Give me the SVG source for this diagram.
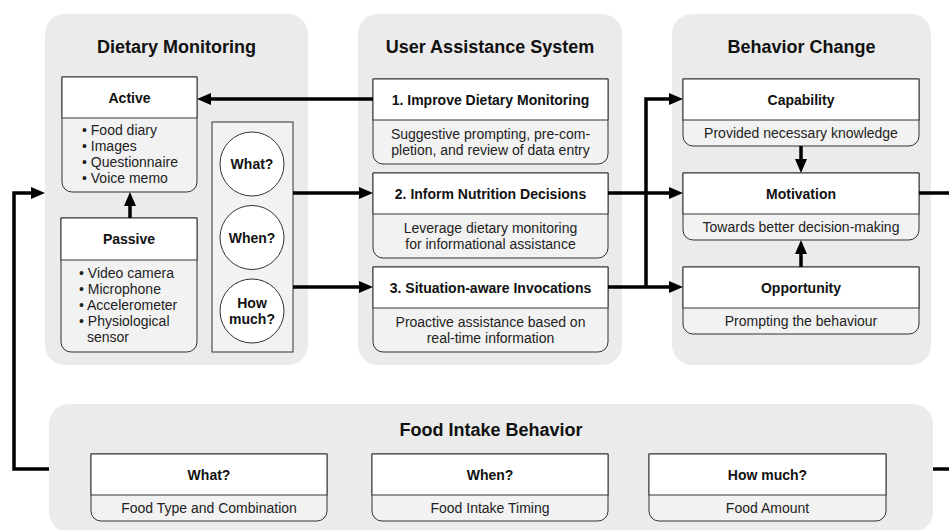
<svg xmlns="http://www.w3.org/2000/svg" width="949" height="530" viewBox="0 0 949 530">
<defs>
<style>
.panel{fill:#ebebeb;stroke:none}
.body{fill:#f2f2f2;stroke:#333;stroke-width:1}
.head{fill:#fff;stroke:#333;stroke-width:1}
.circ{fill:#fff;stroke:#333;stroke-width:1}
.ptitle{font-family:"Liberation Sans",Arial,sans-serif;font-size:18px;font-weight:bold;fill:#111;text-anchor:middle}
.btitle{font-family:"Liberation Sans",Arial,sans-serif;font-size:14px;font-weight:bold;fill:#111;text-anchor:middle}
.desc{font-family:"Liberation Sans",Arial,sans-serif;font-size:14px;fill:#222;text-anchor:middle}
.bul{font-family:"Liberation Sans",Arial,sans-serif;font-size:14px;fill:#222}
.conn{fill:none;stroke:#000;stroke-width:3.5}
</style>
<marker id="ah" markerUnits="userSpaceOnUse" markerWidth="14" markerHeight="12" refX="4" refY="6" orient="auto">
<path d="M0,0 L14,6 L0,12 Z" fill="#000"/>
</marker>
</defs>

<g id="panel-dietary-monitoring">
<rect class="panel" x="45" y="14" width="263" height="351" rx="20"/>
<text class="ptitle" x="176.5" y="53">Dietary Monitoring</text>
</g>
<g id="panel-user-assistance">
<rect class="panel" x="358" y="14" width="264" height="351" rx="20"/>
<text class="ptitle" x="490" y="53">User Assistance System</text>
</g>
<g id="panel-behavior-change">
<rect class="panel" x="672" y="14" width="259" height="351" rx="20"/>
<text class="ptitle" x="801.5" y="53">Behavior Change</text>
</g>
<g id="panel-food-intake">
<rect class="panel" x="49" y="404" width="884" height="128" rx="20"/>
<text class="ptitle" x="491" y="436">Food Intake Behavior</text>
</g>

<g id="node-active">
<path class="body" d="M62,77 H197 V182 A10,10 0 0 1 187,192 H72 A10,10 0 0 1 62,182 Z"/>
<rect class="head" x="62" y="77" width="135" height="41"/>
<text class="btitle" x="129.5" y="102.5">Active</text>
<text class="bul" x="82" y="135">• Food diary</text>
<text class="bul" x="82" y="151">• Images</text>
<text class="bul" x="82" y="167">• Questionnaire</text>
<text class="bul" x="82" y="183">• Voice memo</text>
</g>

<g id="node-passive">
<path class="body" d="M61,218 H197 V342 A10,10 0 0 1 187,352 H71 A10,10 0 0 1 61,342 Z"/>
<rect class="head" x="61" y="218" width="136" height="42"/>
<text class="btitle" x="129" y="244">Passive</text>
<text class="bul" x="79" y="278">• Video camera</text>
<text class="bul" x="79" y="294">• Microphone</text>
<text class="bul" x="79" y="310">• Accelerometer</text>
<text class="bul" x="79" y="326">• Physiological</text>
<text class="bul" x="87" y="342">sensor</text>
</g>

<g id="node-questions">
<rect class="body" x="212" y="122" width="81" height="230"/>
<circle class="circ" cx="252" cy="164" r="32"/>
<text class="btitle" x="252" y="169">What?</text>
<circle class="circ" cx="252" cy="237.5" r="32"/>
<text class="btitle" x="252" y="242.5">When?</text>
<circle class="circ" cx="252" cy="311" r="32"/>
<text class="btitle" x="252" y="308">How</text>
<text class="btitle" x="252" y="324">much?</text>
</g>

<g id="node-improve">
<path class="body" d="M373,79 H608 V154 A10,10 0 0 1 598,164 H383 A10,10 0 0 1 373,154 Z"/>
<rect class="head" x="373" y="79" width="235" height="41"/>
<text class="btitle" x="490.5" y="104.5">1. Improve Dietary Monitoring</text>
<text class="desc" x="490.5" y="139">Suggestive prompting, pre-com-</text>
<text class="desc" x="490.5" y="155">pletion, and review of data entry</text>
</g>

<g id="node-inform">
<path class="body" d="M373,173 H608 V248 A10,10 0 0 1 598,258 H383 A10,10 0 0 1 373,248 Z"/>
<rect class="head" x="373" y="173" width="235" height="41"/>
<text class="btitle" x="490.5" y="198.5">2. Inform Nutrition Decisions</text>
<text class="desc" x="490.5" y="233">Leverage dietary monitoring</text>
<text class="desc" x="490.5" y="249">for informational assistance</text>
</g>

<g id="node-situation">
<path class="body" d="M373,267 H608 V342 A10,10 0 0 1 598,352 H383 A10,10 0 0 1 373,342 Z"/>
<rect class="head" x="373" y="267" width="235" height="41"/>
<text class="btitle" x="490.5" y="292.5">3. Situation-aware Invocations</text>
<text class="desc" x="490.5" y="327">Proactive assistance based on</text>
<text class="desc" x="490.5" y="343">real-time information</text>
</g>

<g id="node-capability">
<path class="body" d="M683,79 H919 V136 A10,10 0 0 1 909,146 H693 A10,10 0 0 1 683,136 Z"/>
<rect class="head" x="683" y="79" width="236" height="41"/>
<text class="btitle" x="801" y="104.5">Capability</text>
<text class="desc" x="801" y="138">Provided necessary knowledge</text>
</g>

<g id="node-motivation">
<path class="body" d="M683,173 H919 V230 A10,10 0 0 1 909,240 H693 A10,10 0 0 1 683,230 Z"/>
<rect class="head" x="683" y="173" width="236" height="41"/>
<text class="btitle" x="801" y="198.5">Motivation</text>
<text class="desc" x="801" y="232">Towards better decision-making</text>
</g>

<g id="node-opportunity">
<path class="body" d="M683,267 H919 V324 A10,10 0 0 1 909,334 H693 A10,10 0 0 1 683,324 Z"/>
<rect class="head" x="683" y="267" width="236" height="41"/>
<text class="btitle" x="801" y="292.5">Opportunity</text>
<text class="desc" x="801" y="326">Prompting the behaviour</text>
</g>

<g id="node-what">
<path class="body" d="M91,454 H327 V511 A10,10 0 0 1 317,521 H101 A10,10 0 0 1 91,511 Z"/>
<rect class="head" x="91" y="454" width="236" height="41"/>
<text class="btitle" x="209" y="479.5">What?</text>
<text class="desc" x="209" y="513">Food Type and Combination</text>
</g>

<g id="node-when">
<path class="body" d="M372,454 H608 V511 A10,10 0 0 1 598,521 H382 A10,10 0 0 1 372,511 Z"/>
<rect class="head" x="372" y="454" width="236" height="41"/>
<text class="btitle" x="490" y="479.5">When?</text>
<text class="desc" x="490" y="513">Food Intake Timing</text>
</g>

<g id="node-howmuch">
<path class="body" d="M649,454 H886 V511 A10,10 0 0 1 876,521 H659 A10,10 0 0 1 649,511 Z"/>
<rect class="head" x="649" y="454" width="237" height="41"/>
<text class="btitle" x="767.5" y="479.5">How much?</text>
<text class="desc" x="767.5" y="513">Food Amount</text>
</g>

<g id="connectors">
<path class="conn" d="M373,99 H207" marker-end="url(#ah)"/>
<path class="conn" d="M130,218 V202" marker-end="url(#ah)"/>
<path class="conn" d="M293,193 H363" marker-end="url(#ah)"/>
<path class="conn" d="M293,287 H363" marker-end="url(#ah)"/>
<path class="conn" d="M608,193 H673" marker-end="url(#ah)"/>
<path class="conn" d="M608,287 H673" marker-end="url(#ah)"/>
<path class="conn" d="M646,287 V99 H673" marker-end="url(#ah)"/>
<path class="conn" d="M801,146 V163" marker-end="url(#ah)"/>
<path class="conn" d="M801,267 V250" marker-end="url(#ah)"/>
<path class="conn" d="M919,193 H949"/>
<path class="conn" d="M949,469 H933"/>
<path class="conn" d="M49,469 H14 V193 H35" marker-end="url(#ah)"/>
</g>
</svg>
